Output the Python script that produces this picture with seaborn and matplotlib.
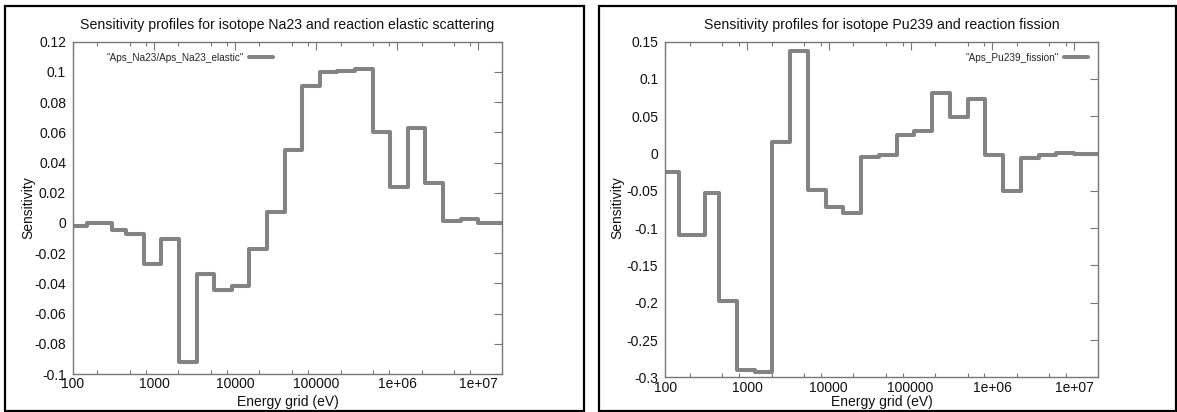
import numpy as np
import pandas as pd
import matplotlib
matplotlib.use("Agg")
import matplotlib.pyplot as plt
import seaborn as sns
from matplotlib.ticker import FixedLocator, FuncFormatter, MultipleLocator, LogLocator
from matplotlib.patches import Rectangle

# ECCO-33 group lower bounds (visible range) and top boundary, eV
energy_lower = [91.66, 148.6, 304.3, 454.0, 748.5, 1234.1, 2034.7, 3354.6, 5530.8,
                9118.8, 15034.0, 24788.0, 40868.0, 67379.0, 111090.0, 183160.0,
                301970.0, 497870.0, 820850.0, 1353400.0, 2231300.0, 3678800.0,
                6065300.0, 10000000.0]
energy_top = 19640000.0

na23_elastic = [-0.0017, -0.0003, -0.0045, -0.0074, -0.0275, -0.0105, -0.092, -0.0336,
                -0.0442, -0.0420, -0.0170, 0.0072, 0.0484, 0.0910, 0.1000, 0.1008,
                0.1020, 0.0603, 0.0240, 0.0626, 0.0264, 0.0012, 0.0025, 0.0000]

pu239_fission = [-0.0248, -0.109, -0.053, -0.198, -0.290, -0.293, 0.0154, 0.137,
                 -0.0486, -0.071, -0.080, -0.0047, -0.0016, 0.0243, 0.0297, 0.0807,
                 0.0494, 0.0736, -0.0025, -0.0508, -0.006, -0.0016, 0.0010, 0.0000]

titles = ["Sensitivity profiles for isotope Na23 and reaction elastic scattering",
          "Sensitivity profiles for isotope Pu239 and reaction fission"]
legend_labels = ['"Aps_Na23/Aps_Na23_elastic"', '"Aps_Pu239_fission"']
x_label = "Energy grid (eV)"
y_label = "Sensitivity"
x_ticks = [100, 1000, 10000, 100000, 1e6, 1e7]

sns.set_theme(style="white")
plt.rcParams['font.family'] = ['Liberation Sans', 'DejaVu Sans']

W, H = 1177, 412
fig = plt.figure(figsize=(W / 100, H / 100), dpi=100)

def fx(px):
    return px / W

def fy(py):
    return 1 - py / H

# panel frames
for (x0, x1) in [(5, 584), (599, 1176)]:
    fig.patches.append(Rectangle((fx(x0), fy(411)), fx(x1) - fx(x0), fy(6) - fy(411),
                                 transform=fig.transFigure, fill=False,
                                 edgecolor='black', linewidth=1.6, zorder=0))

axes_px = [(73, 502, 41.7, 374), (665.3, 1098, 41.7, 377.3)]
ylims = [(-0.1, 0.12), (-0.3, 0.15)]
ysteps = [0.02, 0.05]
series = [na23_elastic, pu239_fission]
legend_anchor = [(0.065, 0.985, 'upper left'), (0.99, 0.985, 'upper right')]
ylabel_x = [28, 617]
xlabel_y = 402

def gfmt(v, pos=None):
    v = round(v, 6)
    if v == 0:
        return "0"
    return f"{v:g}"

spine_col = '#777777'
for i in range(2):
    l, r, t, b = axes_px[i]
    ax = fig.add_axes([fx(l), fy(b), fx(r) - fx(l), fy(t) - fy(b)])
    x = energy_lower + [energy_top]
    y = series[i] + [series[i][-1]]
    df = pd.DataFrame({"E": x, "S": y})
    sns.lineplot(data=df, x="E", y="S", ax=ax, drawstyle='steps-post',
                 color='#838383', linewidth=2.9, label=legend_labels[i],
                 estimator=None, sort=False)
    ax.set_xscale('log')
    ax.set_xlim(100, energy_top)
    ax.set_ylim(*ylims[i])
    ax.xaxis.set_major_locator(FixedLocator(x_ticks))
    ax.xaxis.set_major_formatter(FuncFormatter(lambda v, p: f"{v:g}"))
    ax.xaxis.set_minor_locator(LogLocator(base=10, subs=(2.0, 5.0, 8.0), numticks=20))
    ax.xaxis.set_minor_formatter(FuncFormatter(lambda v, p: ""))
    ax.yaxis.set_major_locator(MultipleLocator(ysteps[i]))
    ax.yaxis.set_major_formatter(FuncFormatter(gfmt))
    ax.tick_params(axis='both', which='major', direction='in', length=6, width=0.8,
                   color=spine_col, top=True, right=True, labelsize=10,
                   labelcolor='#111111', pad=5)
    ax.tick_params(axis='x', which='major', pad=2.5)
    ax.tick_params(axis='x', which='minor', direction='in', length=3, width=0.8,
                   color=spine_col, top=True, bottom=True)
    for s in ax.spines.values():
        s.set_color(spine_col)
        s.set_linewidth(1.0)
    ax.set_xlabel(x_label, fontsize=10, color='#111111', va='center')
    ax_h = fy(t) - fy(b)
    ax.xaxis.set_label_coords(0.5, (fy(xlabel_y) - fy(b)) / ax_h)
    ax.set_ylabel("")
    ax.set_title(titles[i], fontsize=10.2, pad=9, color='#111111')
    bx, by, loc = legend_anchor[i]
    leg = ax.legend(loc=loc, bbox_to_anchor=(bx, by), frameon=False, markerfirst=False,
                    fontsize=7.2, handlelength=2.4, handletextpad=0.5, borderaxespad=0.2)
    fig.text(fx(ylabel_x[i]), fy(208), y_label, rotation=90, ha='center', va='center',
             fontsize=10, color='#111111')

fig.savefig("out.png", dpi=100)
